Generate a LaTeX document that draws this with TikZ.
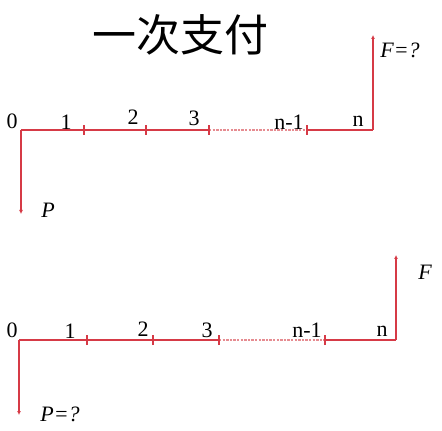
\documentclass[tikz,border=0pt]{standalone}
\usepackage{fontspec}
\setmainfont{Liberation Serif}
\newfontfamily\cjk{Noto Sans CJK SC}
\usepackage{tikz}
\usetikzlibrary{arrows.meta,positioning}

\definecolor{flowred}{RGB}{214,58,70}
\definecolor{dotred}{RGB}{230,140,145}

\begin{document}
\begin{tikzpicture}[x=0.5pt, y=-0.5pt]
    \tikzstyle{cash line}=[line width=1.1pt, flowred];
    \tikzstyle{cash arrow}=[cash line, -{Latex[length=2pt,width=2pt]}];
    \tikzstyle{tick mark}=[line width=1pt, flowred];
    \tikzstyle{period}=[inner sep=0pt, font=\fontsize{11}{11}\selectfont];
    \tikzstyle{amount}=[inner sep=0pt, font=\itshape\fontsize{11}{11}\selectfont];

    \useasboundingbox (0,0) rectangle (442,431);

    % title
    \node[inner sep=0pt, font=\cjk\fontsize{22}{22}\selectfont] (title) at (180,35) {一次支付};

    % upper diagram: P given, F unknown
    \coordinate (a0) at (21,130);
    \coordinate (a1) at (84,130);
    \coordinate (a2) at (146,130);
    \coordinate (a3) at (209,130);
    \coordinate (an1) at (307,130);
    \coordinate (an) at (373,130);
    \coordinate (aF) at (373,35);
    \coordinate (aP) at (21,214);

    \draw[cash line] (a0) -- (a3);
    \draw[line width=1pt, dotred, dash pattern=on 1.2pt off 0.6pt] (a3) -- (an1);
    \draw[cash line] (an1) -- (an);
    \draw[cash arrow] (an) -- (aF);
    \draw[cash arrow] (a0) -- (aP);
    \foreach \t in {a1, a2, a3, an1} {
      \draw[tick mark] ([yshift=-2.5pt]\t) -- ([yshift=2.5pt]\t);
    }

    \foreach \x / \y / \lbl / \n in {12/121/0/la0, 66/122/1/la1, 133/117/2/la2, 194/118/3/la3, 289/122/n-1/lan1, 358/121/n/lan} {
      \node[period] (\n) at (\x,\y) {\lbl};
    }
    \node[amount] (aPl) at (48,210) {P};
    \node[amount] (aFl) at (400,50) {F=?};

    % lower diagram: F given, P unknown
    \coordinate (b0) at (19,340);
    \coordinate (b1) at (87,340);
    \coordinate (b2) at (153,340);
    \coordinate (b3) at (219,340);
    \coordinate (bn1) at (325,340);
    \coordinate (bn) at (396,340);
    \coordinate (bF) at (396,255);
    \coordinate (bP) at (19,415);

    \draw[cash line] (b0) -- (b3);
    \draw[line width=1pt, dotred, dash pattern=on 1.2pt off 0.6pt] (b3) -- (bn1);
    \draw[cash line] (bn1) -- (bn);
    \draw[cash arrow] (bn) -- (bF);
    \draw[cash arrow] (b0) -- (bP);
    \foreach \t in {b1, b2, b3, bn1} {
      \draw[tick mark] ([yshift=-2.5pt]\t) -- ([yshift=2.5pt]\t);
    }

    \foreach \x / \y / \lbl / \n in {12/330/0/lb0, 70/331/1/lb1, 143/329/2/lb2, 207/330/3/lb3, 307/330/n-1/lbn1, 382/331/n/lbn} {
      \node[period] (\n) at (\x,\y) {\lbl};
    }
    \node[amount] (bFl) at (425,272) {F};
    \node[amount] (bPl) at (60,414) {P=?};
  \end{tikzpicture}
\end{document}
